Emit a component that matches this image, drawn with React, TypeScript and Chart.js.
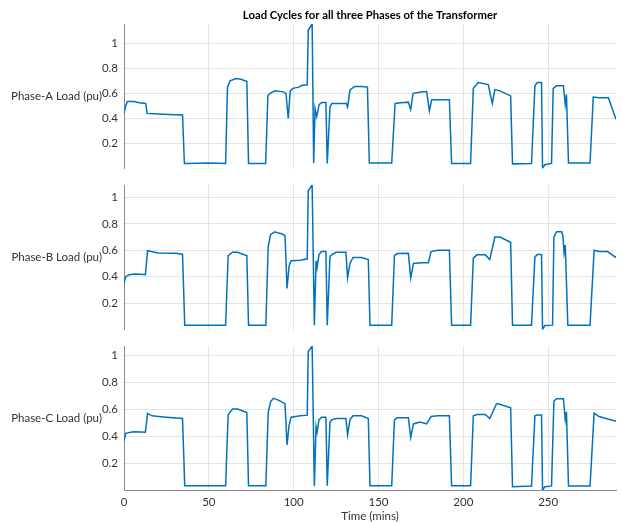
import React, { useEffect, useRef } from "react";
import { Chart, registerables } from "chart.js";

Chart.register(...registerables);

const W = 623;
const H = 523;
const FONT = "Lato, 'Open Sans', sans-serif";
const TEXT = "#333333";

const X_TICKS = [0, 50, 100, 150, 200, 250];
const Y_TICKS = [0.2, 0.4, 0.6, 0.8, 1];
const X_MAX = 290;

const CHART_TITLE = "Load Cycles for all three Phases of the Transformer";
const X_TITLE = "Time (mins)";

const timeA = [0, 1, 2, 6, 9, 12.8, 13.6, 20, 30, 34.5, 35.6, 45, 50, 59.9, 61, 62.5, 66, 69, 72.4, 73.4,
  83.5, 84.8, 86, 89, 94, 95.5, 96.8, 98, 99.5, 103, 105, 108, 108.6, 110.9, 111.8, 112.6, 113.6, 115, 116.5,
  119, 119.8, 121.4, 122.5, 131, 131.8, 133.2, 136, 140, 143.5, 144.6, 157.8, 159.8, 163, 167.6, 169, 170.4,
  175, 178.4, 180, 181.4, 191.8, 193.1, 204.3, 205.9, 208.8, 214.7, 217.1, 218.6, 221.6, 227.9, 229, 240.2,
  242.2, 243.6, 246.1, 246.7, 248.1, 252, 253, 255, 259, 260.1, 260.8, 262, 274.7, 276.6, 280, 285.5, 290];
const loadA = [0.44, 0.5, 0.535, 0.535, 0.525, 0.52, 0.44, 0.435, 0.43, 0.427, 0.04, 0.042, 0.043, 0.04, 0.65, 0.7, 0.718, 0.712, 0.695, 0.04,
  0.04, 0.58, 0.6, 0.62, 0.612, 0.6, 0.4, 0.62, 0.64, 0.65, 0.665, 0.668, 1.106, 1.154, 0.044, 0.48, 0.415, 0.51, 0.527,
  0.527, 0.04, 0.49, 0.52, 0.52, 0.49, 0.628, 0.655, 0.655, 0.65, 0.044, 0.044, 0.52, 0.525, 0.53, 0.47, 0.6,
  0.61, 0.615, 0.46, 0.55, 0.55, 0.04, 0.04, 0.64, 0.686, 0.67, 0.52, 0.63, 0.62, 0.58, 0.037, 0.04,
  0.66, 0.686, 0.686, 0.004, 0.03, 0.04, 0.64, 0.66, 0.66, 0.51, 0.59, 0.044, 0.044, 0.57, 0.565, 0.565, 0.394];

const timeB = [0, 1, 3, 6, 10, 12.6, 13.9, 16, 20, 30, 34.5, 35.8, 59.9, 61.4, 64, 67, 70, 72.4, 73.4, 83.6,
  85, 86.4, 89, 91, 93, 94.9, 96.1, 97.3, 98.5, 104, 108, 108.6, 110.9, 112.2, 113.2, 113.8, 114.9, 116.4, 119,
  119.8, 121.4, 122.3, 125, 130.8, 131.8, 133.2, 135, 140, 144, 145, 157.8, 159.4, 161, 167.6, 169, 170.6, 175,
  179.4, 181, 185, 191.8, 193.1, 204.3, 205.9, 208, 213, 215.6, 218.6, 221.6, 227.9, 229, 240.2, 242.2, 243.6,
  246.1, 246.7, 248.1, 252.6, 253.4, 255, 258, 258.7, 259.4, 260.1, 261.6, 274.7, 277.1, 280, 285, 290];
const loadB = [0.35, 0.4, 0.415, 0.42, 0.418, 0.415, 0.596, 0.59, 0.58, 0.578, 0.57, 0.033, 0.033, 0.56, 0.585, 0.585, 0.57, 0.56, 0.033, 0.033,
  0.628, 0.72, 0.74, 0.73, 0.725, 0.71, 0.31, 0.48, 0.52, 0.525, 0.535, 1.05, 1.094, 0.033, 0.52, 0.47, 0.565, 0.59, 0.59,
  0.033, 0.55, 0.565, 0.585, 0.585, 0.39, 0.5, 0.545, 0.545, 0.53, 0.033, 0.033, 0.56, 0.575, 0.578, 0.39, 0.5, 0.505,
  0.505, 0.59, 0.6, 0.6, 0.033, 0.033, 0.54, 0.565, 0.565, 0.53, 0.7, 0.7, 0.66, 0.033, 0.033, 0.55, 0.567,
  0.567, 0.0, 0.03, 0.033, 0.7, 0.74, 0.74, 0.71, 0.58, 0.64, 0.033, 0.033, 0.6, 0.59, 0.59, 0.545];

const timeC = [0, 1, 5.5, 10, 12.6, 13.9, 16.5, 20.5, 25, 34.5, 35.8, 59.9, 61.4, 64, 67, 72.4, 73.4, 83.6,
  85, 86.4, 88, 91, 94.9, 96.1, 97.3, 98.5, 104, 108, 108.6, 110.9, 112.2, 113.2, 113.8, 114.9, 116.4, 119,
  119.8, 121.4, 122.3, 125, 130.8, 131.8, 133.2, 135, 140, 144, 145, 157.8, 159.4, 161, 167.6, 169, 170.6,
  174.5, 178.4, 181, 185, 191.8, 193.1, 204.3, 205.9, 208, 213, 215.6, 219.6, 220.6, 227.9, 229, 240.2, 242.2,
  243.6, 246.1, 246.7, 248.1, 252, 253.4, 255, 259, 260.1, 260.8, 262, 274.7, 277.1, 280, 290];
const loadC = [0.363, 0.42, 0.432, 0.43, 0.428, 0.568, 0.55, 0.545, 0.54, 0.53, 0.032, 0.032, 0.56, 0.6, 0.6, 0.575, 0.032, 0.032,
  0.574, 0.654, 0.68, 0.667, 0.64, 0.335, 0.48, 0.54, 0.55, 0.555, 1.025, 1.068, 0.03, 0.47, 0.43, 0.52, 0.54, 0.54,
  0.032, 0.5, 0.52, 0.53, 0.53, 0.41, 0.52, 0.55, 0.55, 0.53, 0.032, 0.032, 0.52, 0.536, 0.536, 0.39, 0.49,
  0.505, 0.49, 0.545, 0.55, 0.55, 0.032, 0.032, 0.55, 0.56, 0.56, 0.53, 0.64, 0.64, 0.61, 0.024, 0.03, 0.55,
  0.556, 0.556, 0.0, 0.024, 0.03, 0.66, 0.677, 0.677, 0.52, 0.58, 0.03, 0.03, 0.57, 0.545, 0.51];

type Panel = {
  label: string;
  time: number[];
  load: number[];
  top: number;
  bottom: number;
  showX: boolean;
  drawTitle: boolean;
};

const PANELS: Panel[] = [
  { label: "Phase-A Load (pu)", time: timeA, load: loadA, top: 24, bottom: 168.5, showX: false, drawTitle: true },
  { label: "Phase-B Load (pu)", time: timeB, load: loadB, top: 185, bottom: 329.5, showX: false, drawTitle: false },
  { label: "Phase-C Load (pu)", time: timeC, load: loadC, top: 346, bottom: 490, showX: true, drawTitle: false },
];

function makeConfig(p: Panel): any {
  const textPlugin = {
    id: "panelText",
    afterDraw(chart: any) {
      const ctx = chart.ctx;
      const area = chart.chartArea;
      ctx.save();
      ctx.fillStyle = TEXT;
      ctx.font = `11.5px ${FONT}`;
      ctx.textAlign = "right";
      ctx.textBaseline = "middle";
      ctx.fillText(p.label, 102, (area.top + area.bottom) / 2);
      if (p.drawTitle) {
        ctx.fillStyle = "#000000";
        ctx.font = `bold 11.3px ${FONT}`;
        ctx.textAlign = "center";
        ctx.fillText(CHART_TITLE, 370, 15);
      }
      if (p.showX) {
        ctx.fillStyle = TEXT;
        ctx.font = `11.5px ${FONT}`;
        ctx.textAlign = "center";
        ctx.fillText(X_TITLE, 370, 516);
      }
      ctx.restore();
    },
  };

  const xHeight = p.showX ? H - p.bottom : 0;

  return {
    type: "line",
    data: {
      datasets: [
        {
          data: p.time.map((t, i) => ({ x: t, y: p.load[i] })),
          borderColor: "#0072BD",
          borderWidth: 1.5,
          pointRadius: 0,
          fill: false,
          tension: 0,
        },
      ],
    },
    options: {
      responsive: false,
      maintainAspectRatio: false,
      animation: false,
      layout: { padding: { top: p.top, bottom: H - p.bottom - xHeight, left: 0, right: W - 616 } },
      plugins: { legend: { display: false }, tooltip: { enabled: false }, title: { display: false } },
      scales: {
        x: {
          type: "linear",
          min: 0,
          max: X_MAX,
          afterBuildTicks: (s: any) => {
            s.ticks = X_TICKS.map((v) => ({ value: v }));
          },
          afterFit: (s: any) => {
            s.height = xHeight;
          },
          ticks: {
            display: p.showX,
            padding: 5,
            color: TEXT,
            font: { family: FONT, size: 11.5 },
            maxRotation: 0,
            autoSkip: false,
            callback: (v: any) => String(v),
          },
          grid: { color: "#e4e4e4", drawTicks: false, lineWidth: 1 },
          border: { display: p.showX, color: "#8a8a8a", width: 1 },
        },
        y: {
          type: "linear",
          min: 0,
          max: Math.max(...p.load),
          afterBuildTicks: (s: any) => {
            s.ticks = Y_TICKS.map((v) => ({ value: v }));
          },
          afterFit: (s: any) => {
            s.width = 124;
          },
          ticks: {
            padding: 6,
            color: TEXT,
            font: { family: FONT, size: 11.5 },
            callback: (v: any) => String(v),
          },
          grid: { color: "#e4e4e4", drawTicks: false, lineWidth: 1 },
          border: { display: true, color: "#8a8a8a", width: 1 },
        },
      },
    },
    plugins: [textPlugin],
  };
}

function PanelCanvas({ panel }: { panel: Panel }) {
  const ref = useRef<HTMLCanvasElement | null>(null);
  useEffect(() => {
    if (!ref.current) return;
    const chart = new Chart(ref.current, makeConfig(panel));
    return () => chart.destroy();
  }, [panel]);
  return (
    <canvas
      ref={ref}
      width={W}
      height={H}
      style={{ position: "absolute", left: 0, top: 0, width: W, height: H }}
    />
  );
}

export default function App() {
  return (
    <div style={{ position: "absolute", left: 0, top: 0, width: W, height: H, background: "#ffffff" }}>
      {PANELS.map((p, i) => (
        <PanelCanvas key={i} panel={p} />
      ))}
    </div>
  );
}
